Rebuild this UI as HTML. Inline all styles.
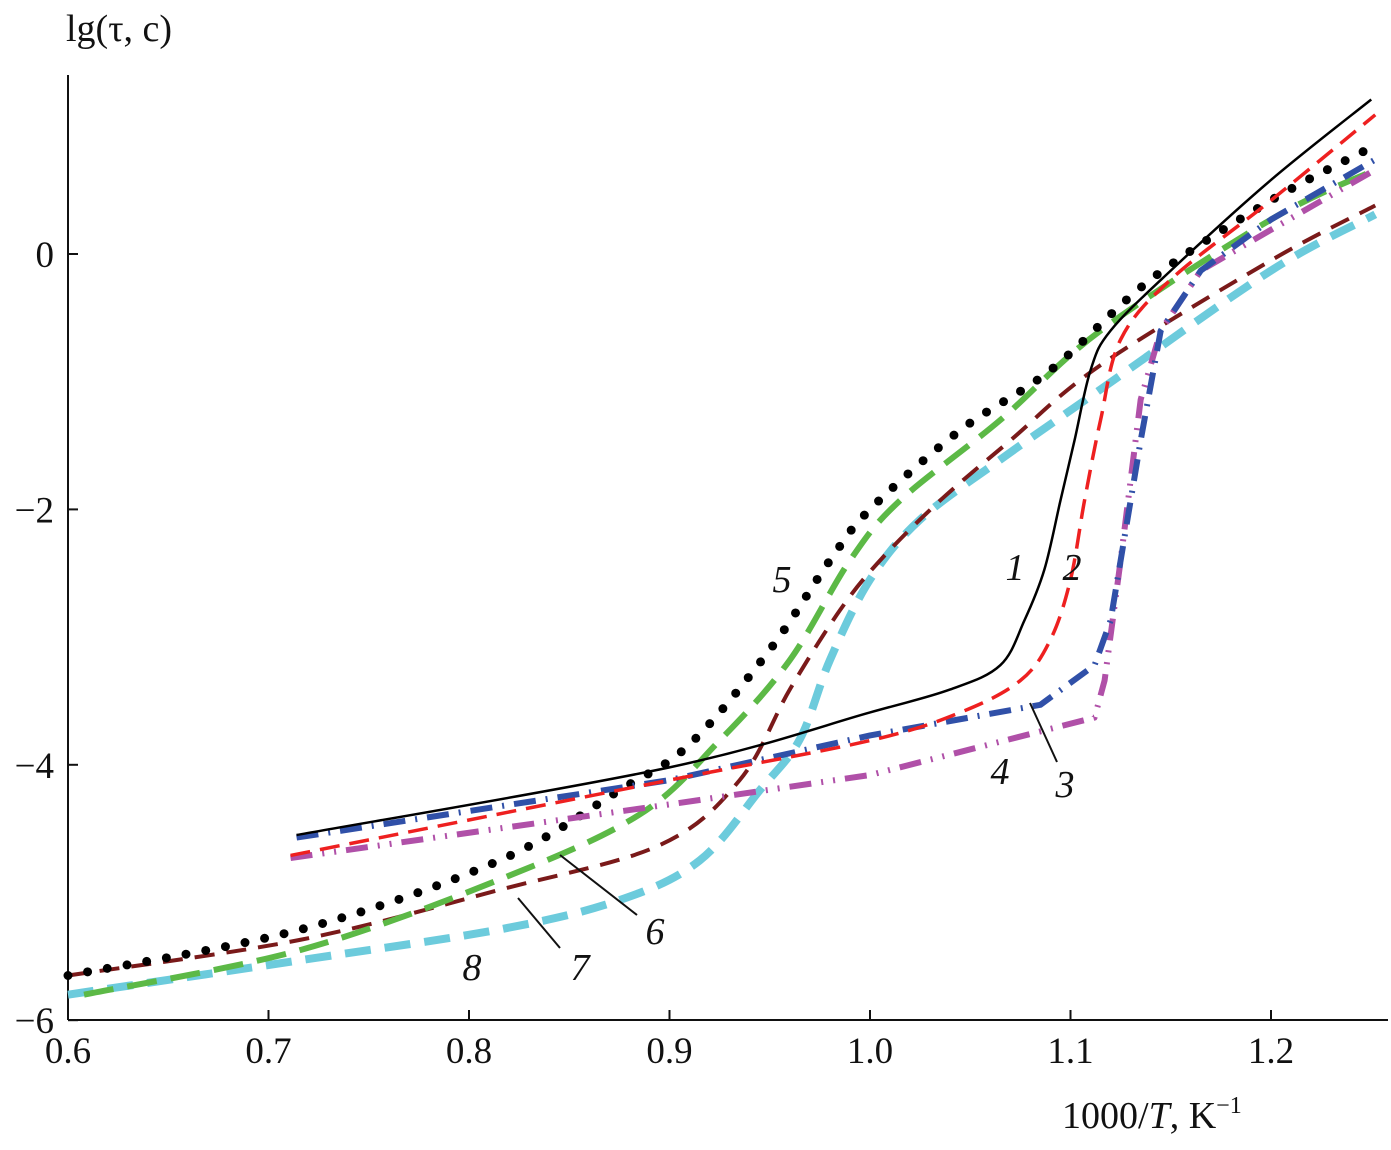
<!DOCTYPE html>
<html><head><meta charset="utf-8"><style>
body{margin:0;background:#fff}
svg text{font-family:"Liberation Serif",serif;fill:#111}
</style></head><body>
<svg id="c" width="1391" height="1145" xmlns="http://www.w3.org/2000/svg">
<g id="axes"></g>
<g id="series"></g>
<g id="labels"></g>
</svg>
<script>
const xTicks=[0.6,0.7,0.8,0.9,1.0,1.1,1.2];
const xTickLabels=["0.6","0.7","0.8","0.9","1.0","1.1","1.2"];
const yTicks=[0,-2,-4,-6];
const yTickLabels=["0","\u22122","\u22124","\u22126"];
const s1x=[0.714,0.9,1.0,1.04,1.065,1.077,1.087,1.095,1.102,1.11,1.12,1.15,1.2,1.25];
const s1y=[-4.55,-4.02,-3.59,-3.41,-3.22,-2.87,-2.47,-1.93,-1.46,-0.91,-0.6,-0.13,0.58,1.21];
const s2x=[0.711,0.9,1.0,1.045,1.075,1.09,1.1,1.107,1.115,1.125,1.15,1.2,1.252];
const s2y=[-4.71,-4.12,-3.81,-3.59,-3.34,-3.02,-2.55,-1.93,-1.3,-0.67,-0.2,0.42,1.09];
const s3x=[0.714,0.9,1.0,1.085,1.112,1.12,1.135,1.145,1.165,1.2,1.252];
const s3y=[-4.57,-4.12,-3.77,-3.53,-3.22,-2.87,-1.46,-0.6,-0.13,0.27,0.74];
const s4x=[0.711,0.9,1.0,1.112,1.117,1.125,1.135,1.145,1.165,1.2,1.252];
const s4y=[-4.73,-4.31,-4.08,-3.63,-3.34,-2.4,-1.14,-0.6,-0.13,0.19,0.66];
const s5x=[0.6,0.716,0.815,0.875,0.91,0.95,0.98,1.0,1.045,1.09,1.14,1.2,1.252];
const s5y=[-5.65,-5.29,-4.75,-4.2,-3.84,-3.1,-2.4,-2.0,-1.38,-0.91,-0.2,0.42,0.85];
const s6x=[0.608,0.716,0.815,0.885,0.925,0.96,0.99,1.015,1.065,1.115,1.2,1.252];
const s6y=[-5.8,-5.45,-4.9,-4.39,-3.81,-3.18,-2.4,-1.93,-1.3,-0.6,0.27,0.66];
const s7x=[0.6,0.716,0.815,0.895,0.935,0.96,0.985,1.005,1.035,1.07,1.115,1.2,1.252];
const s7y=[-5.65,-5.37,-4.98,-4.63,-4.12,-3.41,-2.79,-2.4,-1.93,-1.46,-0.87,-0.05,0.38];
const s8x=[0.6,0.716,0.815,0.875,0.915,0.945,0.965,0.98,1.0,1.025,1.065,1.115,1.2,1.252];
const s8y=[-5.8,-5.53,-5.29,-5.06,-4.75,-4.2,-3.8,-3.18,-2.55,-2.08,-1.61,-1.06,-0.13,0.31];

const X=v=>68+(v-0.6)*2005;
const Y=v=>254-v*127.7;
const NS="http://www.w3.org/2000/svg";
function mk(tag,attrs,parent){const e=document.createElementNS(NS,tag);for(const k in attrs)e.setAttribute(k,attrs[k]);parent.appendChild(e);return e;}
const axes=document.getElementById('axes');
let l=mk('line',{x1:68,y1:75,x2:68,y2:1020,stroke:'#111','stroke-width':2},axes);


l=mk('line',{x1:68,y1:1020,x2:1388,y2:1020,stroke:'#111','stroke-width':2},axes);


xTicks.forEach((v,i)=>{
 const t=mk('line',{x1:X(v),x2:X(v),y1:1020,y2:1010,stroke:'#111','stroke-width':2},axes);
 
 
 const tx=mk('text',{x:X(v),y:1063,'font-size':37,'text-anchor':'middle'},axes);
 tx.textContent=xTickLabels[i];
 
 
});
yTicks.forEach((v,i)=>{
 const t=mk('line',{x1:68,x2:78,y1:Y(v),y2:Y(v),stroke:'#111','stroke-width':2},axes);
 
 
 const tx=mk('text',{x:54,y:Y(v)+13,'font-size':37,'text-anchor':'end'},axes);
 tx.textContent=yTickLabels[i];
 
 
});
let tt=mk('text',{x:66,y:41,'font-size':38},axes);
tt.textContent='lg(\u03c4, c)';


tt=mk('text',{x:1062,y:1128,'font-size':38},axes);
tt.innerHTML='1000/<tspan font-style="italic">T</tspan>, K<tspan font-size="24" dy="-15">\u22121</tspan>';



function pathD(xs,ys,linear){
 const p=xs.map((v,i)=>[X(v),Y(ys[i])]);
 let d='M'+p[0][0]+','+p[0][1];
 for(let i=0;i<p.length-1;i++){
  if(linear){d+=' L'+p[i+1];continue;}
  const p0=p[Math.max(0,i-1)],p1=p[i],p2=p[i+1],p3=p[Math.min(p.length-1,i+2)];
  const c1=[p1[0]+(p2[0]-p0[0])/6,p1[1]+(p2[1]-p0[1])/6];
  const c2=[p2[0]-(p3[0]-p1[0])/6,p2[1]-(p3[1]-p1[1])/6];
  d+=' C'+c1+' '+c2+' '+p2;
 }
 return d;
}
const ser=document.getElementById('series');
const defs=[
 [s8x,s8y,'#6ccbdc',8,'26 14','curve-8',false],
 [s7x,s7y,'#7a1a1a',4,'20 12','curve-7',false],
 [s6x,s6y,'#5cb946',6,'30 14','curve-6',false],
 [s5x,s5y,'#000',9,'0 20','curve-5',false],
 [s4x,s4y,'#b050a8',6,'22 10 2 10 2 10','curve-4',true],
 [s3x,s3y,'#3050a8',6,'22 10 2 10','curve-3',true],
 [s2x,s2y,'#ee2020',3.5,'20 10','curve-2',false],
 [s1x,s1y,'#000',2.5,'none','curve-1',false],
];
defs.forEach(d=>{
 const p=mk('path',{d:pathD(d[0],d[1],d[6]),fill:'none',stroke:d[2],'stroke-width':d[3],'stroke-dasharray':d[4],'stroke-linecap':d[4]==='0 20'?'round':'butt','stroke-linejoin':'round'},ser);
 
 
});
const lab=document.getElementById('labels');
[[782,592,'5'],[1015,580,'1'],[1072,580,'2'],[1000,784,'4'],[1065,797,'3'],[655,944,'6'],[580,980,'7'],[472,980,'8']].forEach(a=>{
 const t=mk('text',{x:a[0],y:a[1],'font-size':38,'font-style':'italic','text-anchor':'middle'},lab);
 t.textContent=a[2];
 
 
});
[[1030,703,1057,762],[560,855,637,915],[518,898,560,948]].forEach(a=>{
 const t=mk('line',{x1:a[0],y1:a[1],x2:a[2],y2:a[3],stroke:'#111','stroke-width':2},lab);
 
 
});
</script>
</body></html>
